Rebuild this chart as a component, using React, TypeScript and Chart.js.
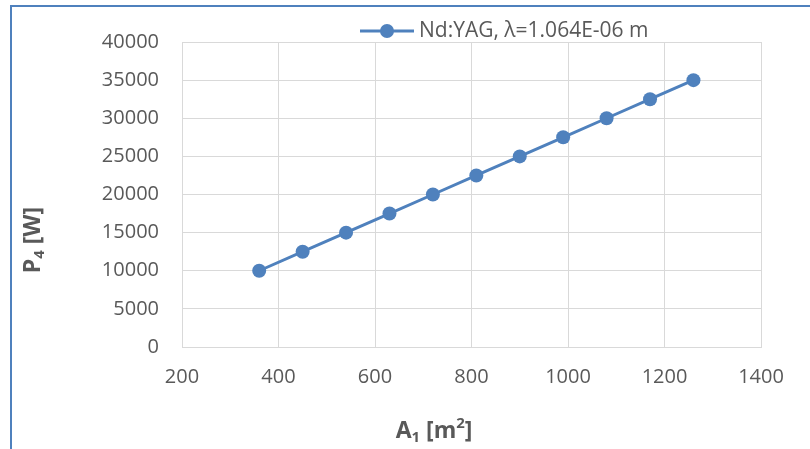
import React, { useEffect, useRef } from "react";
import { Chart, registerables } from "chart.js";

Chart.register(...registerables);

const seriesLabel = "Nd:YAG, λ=1.064E-06 m";
const areaA1 = [360, 450, 540, 630, 720, 810, 900, 990, 1080, 1170, 1260];
const powerP4 = [10000, 12500, 15000, 17500, 20000, 22500, 25000, 27500, 30000, 32500, 35000];
const xMin = 200, xMax = 1400, xStep = 200;
const yMin = 0, yMax = 40000, yStep = 5000;

const BLUE = "#4F81BD";
const GRID = "#d9d9d9";
const TEXT = "#595959";
const FONT = "'Open Sans', 'Liberation Sans', sans-serif";

function drawSubText(ctx: CanvasRenderingContext2D, parts: { t: string; sub?: boolean; sup?: boolean }[], size: number) {
  let w = 0;
  for (const p of parts) {
    const s = p.sub || p.sup ? size * 0.65 : size;
    ctx.font = `bold ${s}px ${FONT}`;
    w += ctx.measureText(p.t).width;
  }
  let x = -w / 2;
  for (const p of parts) {
    const s = p.sub || p.sup ? size * 0.65 : size;
    ctx.font = `bold ${s}px ${FONT}`;
    const dy = p.sub ? size * 0.3 : p.sup ? -size * 0.3 : 0;
    ctx.fillText(p.t, x, dy);
    x += ctx.measureText(p.t).width;
  }
}

const overlay = {
  id: "overlay",
  afterDraw(chart: any) {
    const ctx = chart.ctx as CanvasRenderingContext2D;
    ctx.save();
    ctx.fillStyle = TEXT;
    ctx.textBaseline = "middle";
    ctx.textAlign = "left";
    // x title
    ctx.save();
    ctx.translate(434, 431);
    drawSubText(ctx, [{ t: "A" }, { t: "1", sub: true }, { t: " [m" }, { t: "2", sup: true }, { t: "]" }], 23);
    ctx.restore();
    // y title
    ctx.save();
    ctx.translate(33, 240);
    ctx.rotate(-Math.PI / 2);
    drawSubText(ctx, [{ t: "P" }, { t: "4", sub: true }, { t: " [W]" }], 23);
    ctx.restore();
    // legend
    const ly = 31;
    ctx.strokeStyle = BLUE;
    ctx.lineWidth = 3;
    ctx.beginPath();
    ctx.moveTo(360, ly);
    ctx.lineTo(414, ly);
    ctx.stroke();
    ctx.fillStyle = BLUE;
    ctx.beginPath();
    ctx.arc(387, ly, 7, 0, Math.PI * 2);
    ctx.fill();
    ctx.fillStyle = TEXT;
    ctx.font = `21px ${FONT}`;
    ctx.fillText(seriesLabel, 419, ly);
    ctx.restore();
  },
};

export default function App() {
  const ref = useRef<HTMLCanvasElement | null>(null);
  useEffect(() => {
    const prevMargin = document.body.style.margin;
    document.body.style.margin = "0";
    const chart = new Chart(ref.current as HTMLCanvasElement, {
      type: "scatter",
      data: {
        datasets: [
          {
            label: seriesLabel,
            data: areaA1.map((x, i) => ({ x, y: powerP4[i] })),
            showLine: true,
            borderColor: BLUE,
            backgroundColor: BLUE,
            borderWidth: 3,
            pointRadius: 7,
            pointHoverRadius: 7,
            pointBorderWidth: 0,
          },
        ],
      },
      options: {
        animation: false,
        responsive: false,
        layout: { padding: { left: 0, top: 42, right: 49, bottom: 0 } },
        plugins: { legend: { display: false }, tooltip: { enabled: false } },
        scales: {
          x: {
            type: "linear",
            min: xMin,
            max: xMax,
            ticks: {
              stepSize: xStep, color: TEXT, font: { family: FONT, size: 20 }, padding: 18,
              maxRotation: 0, autoSkip: false, callback: (v: any) => String(v),
            },
            grid: { color: GRID, lineWidth: 1, drawTicks: false },
            border: { color: GRID, width: 1 },
            afterFit: (s: any) => { s.height = 102; },
          },
          y: {
            type: "linear",
            min: yMin,
            max: yMax,
            ticks: {
              stepSize: yStep, color: TEXT, font: { family: FONT, size: 20 }, padding: 23,
              autoSkip: false, callback: (v: any) => String(v),
            },
            grid: { color: GRID, lineWidth: 1, drawTicks: false },
            border: { color: GRID, width: 1 },
            afterFit: (s: any) => { s.width = 182; },
          },
        },
      },
      plugins: [overlay],
    });
    return () => {
      chart.destroy();
      document.body.style.margin = prevMargin;
    };
  }, []);
  return (
    <div style={{ position: "relative", width: 810, height: 449, background: "#fff" }}>
      <canvas ref={ref} width={810} height={449} style={{ display: "block" }} />
      <div
        style={{
          position: "absolute",
          left: 10,
          top: 5,
          right: 0,
          bottom: 0,
          borderLeft: `2px solid ${BLUE}`,
          borderTop: `2px solid ${BLUE}`,
          pointerEvents: "none",
        }}
      />
    </div>
  );
}
